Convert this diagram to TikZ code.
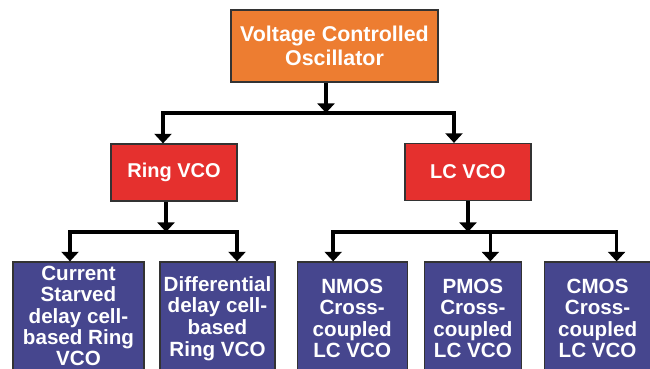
\documentclass[tikz,border=0pt]{standalone}
\usepackage{fontspec}
\setmainfont{Liberation Sans}
\usepackage{tikz}
\usetikzlibrary{arrows.meta,positioning,calc}
\definecolor{vcoorange}{HTML}{ED7D31}
\definecolor{vcored}{HTML}{E5302E}
\definecolor{vcoblue}{HTML}{46468E}
\definecolor{vcoedge}{HTML}{333333}
\tikzset{
  box/.style={draw=vcoedge,line width=0.6pt,text=white,align=center,inner sep=1pt,font=\bfseries\fontsize{10.3}{10.8}\selectfont},
  rootbox/.style={box,fill=vcoorange,minimum width=103.5pt,minimum height=36pt,font=\bfseries\fontsize{10.7}{12}\selectfont},
  typebox/.style={box,fill=vcored,minimum width=63pt,minimum height=28.5pt,font=\bfseries\fontsize{10}{11}\selectfont},
  leafbox/.style={box,fill=vcoblue,minimum height=56.5pt},
  ar/.style={-{Triangle[length=4.8pt,width=8.5pt]},draw=black,line width=1.9pt},
}
\begin{document}
\begin{tikzpicture}[x=0.5pt,y=-0.5pt]
    \fill[white] (0,0) rectangle (650,369);
    \path[use as bounding box,clip] (0,0) rectangle (650,369);
    \node[rootbox] (vco) at (334.5,46) {Voltage Controlled\\Oscillator};
    \node[typebox] (ring) at (174,172.5) {Ring VCO};
    \node[typebox] (lc) at (468,172) {LC VCO};
    \node[leafbox,minimum width=65.5pt,minimum height=54pt,font=\bfseries\fontsize{10.3}{10.6}\selectfont] (csr) at (78.5,316) {Current\\Starved\\delay cell-\\based Ring\\VCO};
    \node[leafbox,minimum width=57.5pt] (dcr) at (217.5,318.5) {Differential\\delay cell-\\based\\Ring VCO};
    \node[leafbox,minimum width=55pt,right=10.5pt of dcr] (nmos) {NMOS\\Cross-\\coupled\\LC VCO};
    \node[leafbox,minimum width=48.5pt,right=8pt of nmos] (pmos) {PMOS\\Cross-\\coupled\\LC VCO};
    \node[leafbox,minimum width=53pt,right=11pt of pmos] (cmos) {CMOS\\Cross-\\coupled\\LC VCO};
    \coordinate (jtop) at (326,113);
    \coordinate (jring) at (166,232);
    \coordinate (jlc) at (468,232);
    \draw[ar] (vco.south -| jtop) -- (jtop);
    \draw[ar] (jtop) -| ($(ring.north)+(-11,0)$);
    \draw[ar] (jtop) -| ($(lc.north)+(-14,0)$);
    \draw[ar] (ring.south -| jring) -- (jring);
    \draw[ar] (jring) -| ($(csr.north)+(-8.5,0)$);
    \draw[ar] (jring) -| ($(dcr.north)+(19.5,0)$);
    \draw[ar] (lc.south -| jlc) -- (jlc);
    \draw[ar] (jlc) -| ($(nmos.north)+(-19,0)$);
    \draw[ar] (jlc) -| ($(pmos.north)+(17.5,0)$);
    \draw[ar] (jlc) -| ($(cmos.north)+(19,0)$);
  \end{tikzpicture}
\end{document}
